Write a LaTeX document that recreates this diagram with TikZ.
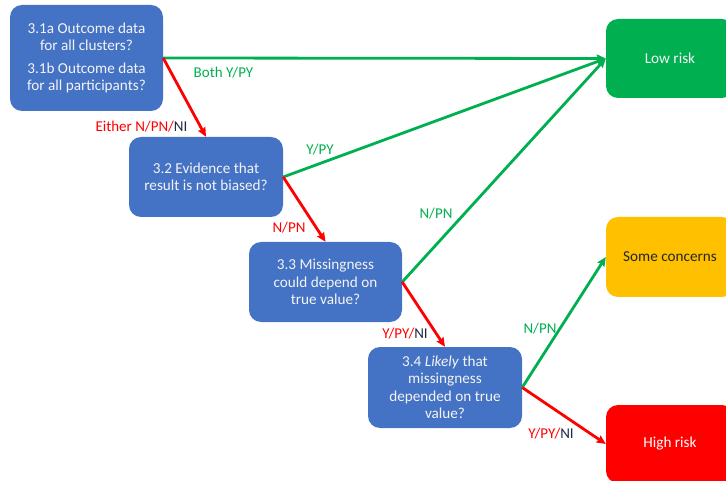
\documentclass[tikz,border=0pt]{standalone}
\usepackage{fontspec}
\setmainfont{Carlito}
\usetikzlibrary{arrows.meta}
\definecolor{qblue}{HTML}{4472C4}
\definecolor{lgreen}{HTML}{00B050}
\definecolor{sorange}{HTML}{FFC000}
\definecolor{hred}{HTML}{FF0000}
\definecolor{navy}{HTML}{1F2A44}
\definecolor{boxtext}{HTML}{F4F4F4}
\tikzset{
  qbox/.style={draw=none, fill=qblue, rounded corners=12pt, text=boxtext, align=center,
    font=\fontsize{15.2}{17.5}\selectfont, inner sep=0pt},
  rbox/.style={draw=none, rounded corners=12pt, align=center,
    font=\fontsize{15.2}{17.5}\selectfont, inner sep=0pt, minimum width=128pt},
  lbl/.style={font=\fontsize{15}{17.5}\selectfont, inner sep=0pt},
  garrow/.style={draw=lgreen, line width=2.8pt, -{Stealth[length=9pt,width=8pt,inset=1pt]}},
  rarrow/.style={draw=hred, line width=2.8pt, -{Stealth[length=9pt,width=8pt,inset=1pt]}},
}
\begin{document}
\begin{tikzpicture}[x=1pt,y=-1pt]
\useasboundingbox (0,0) rectangle (726,481);
\clip (0,0) rectangle (726,481);
% question boxes
\node[qbox, minimum width=153pt, minimum height=106pt] (b1) at (86.5,58)
  {3.1a Outcome data\\for all clusters?\\[5pt]3.1b Outcome data\\for all participants?};
\node[qbox, minimum width=154pt, minimum height=80pt] (b2) at (206,177)
  {3.2 Evidence that\\result is not biased?};
\node[qbox, minimum width=153pt, minimum height=80pt] (b3) at (325.5,282)
  {3.3 Missingness\\could depend on\\true value?};
\node[qbox, minimum width=154pt, minimum height=81pt] (b4) at (445,387.5)
  {3.4 \textit{Likely} that\\missingness\\depended on true\\value?};
% result boxes
\node[rbox, fill=lgreen, text=boxtext, minimum height=79pt] (low) at (670,58.5) {Low risk};
\node[rbox, fill=sorange, text=black!85, minimum height=80pt] (sc) at (670,257) {Some concerns};
\node[rbox, fill=hred, text=white, minimum height=78pt] (hr) at (670,444) {High risk};
% connectors
\draw[garrow] (b1.east) -- (low.west);
\draw[rarrow] (b1.east) -- (b2.north);
\draw[garrow] (b2.east) -- (low.west);
\draw[rarrow] (b2.east) -- (b3.north);
\draw[garrow] (b3.east) -- (low.west);
\draw[rarrow] (b3.east) -- (b4.north);
\draw[garrow] (b4.east) -- (sc.west);
\draw[rarrow] (b4.east) -- (hr.west);
% labels
\node[lbl, text=lgreen] (l1) at (223.5,73) {Both Y/PY};
\node[lbl] (l2) at (141.5,127) {\textcolor{hred}{Either N/PN/}\textcolor{navy}{NI}};
\node[lbl, text=lgreen] (l3) at (320,150) {Y/PY};
\node[lbl, text=hred] (l4) at (289,228) {N/PN};
\node[lbl, text=lgreen] (l5) at (436,214) {N/PN};
\node[lbl] (l6) at (405,334) {\textcolor{hred}{Y/PY/}\textcolor{navy}{NI}};
\node[lbl, text=lgreen] (l7) at (540,329) {N/PN};
\node[lbl] (l8) at (551,434) {\textcolor{hred}{Y/PY/}\textcolor{navy}{NI}};
\end{tikzpicture}
\end{document}
